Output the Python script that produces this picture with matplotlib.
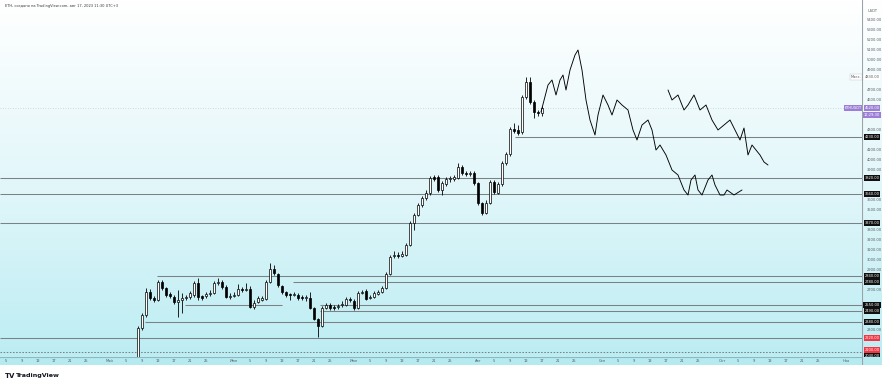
import matplotlib
matplotlib.use('Agg')
import matplotlib.pyplot as plt
import numpy as np
import pandas as pd
from matplotlib.colors import LinearSegmentedColormap
from matplotlib.transforms import blended_transform_factory

# ---------------- data ----------------
title_text = "ETH, создано на TradingView.com, авг 17, 2023 11:30 UTC+3"
base_date = pd.Timestamp("2023-05-01")
first_candle = pd.Timestamp("2023-05-08")

opens = [1980, 2320, 2450, 2680, 2620, 2600, 2780, 2720, 2660, 2630, 2580, 2600, 2620, 2630, 2650,
         2770, 2640, 2640, 2660, 2670, 2770, 2780, 2730, 2630, 2640, 2650, 2710, 2700, 2710, 2530,
         2580, 2600, 2610, 2780, 2910, 2860, 2740, 2680, 2660, 2650, 2650, 2630, 2620, 2620, 2520,
         2410, 2340, 2520, 2550, 2530, 2530, 2550, 2550, 2610, 2590, 2520, 2670, 2690, 2620, 2630,
         2660, 2680, 2720, 2860, 3040, 3050, 3040, 3050, 3150, 3370, 3450, 3550, 3620, 3670, 3830,
         3830, 3700, 3760, 3810, 3810, 3820, 3930, 3870, 3860, 3870, 3770, 3570, 3470, 3570, 3780,
         3670, 3760, 3970, 4060, 4310, 4300, 4280, 4630, 4780, 4580, 4480, 4470]
highs = [2340, 2470, 2720, 2710, 2640, 2800, 2800, 2730, 2680, 2650, 2700, 2670, 2650, 2690, 2790,
         2820, 2650, 2680, 2700, 2790, 2820, 2800, 2750, 2670, 2680, 2760, 2730, 2770, 2740, 2600,
         2640, 2640, 2800, 2970, 2950, 2870, 2750, 2690, 2670, 2680, 2670, 2650, 2650, 2680, 2530,
         2420, 2540, 2570, 2570, 2550, 2560, 2590, 2630, 2630, 2610, 2690, 2700, 2710, 2650, 2690,
         2700, 2740, 2880, 3050, 3090, 3080, 3090, 3170, 3390, 3470, 3570, 3640, 3700, 3840, 3850,
         3850, 3790, 3830, 3840, 3850, 3970, 3950, 3890, 3890, 3890, 3780, 3580, 3600, 3800, 3800,
         3780, 3990, 4080, 4330, 4370, 4350, 4650, 4830, 4830, 4600, 4500, 4540]
lows = [1960, 2300, 2430, 2600, 2580, 2590, 2700, 2630, 2620, 2560, 2430, 2470, 2600, 2610, 2630,
        2600, 2600, 2620, 2640, 2660, 2750, 2710, 2620, 2610, 2630, 2640, 2680, 2690, 2520, 2510,
        2570, 2590, 2600, 2770, 2850, 2730, 2660, 2630, 2600, 2640, 2600, 2600, 2590, 2510, 2400,
        2230, 2330, 2510, 2500, 2500, 2510, 2530, 2540, 2580, 2500, 2510, 2660, 2600, 2610, 2620,
        2650, 2670, 2710, 2850, 3020, 3020, 3030, 3040, 3140, 3300, 3440, 3530, 3600, 3650, 3790,
        3680, 3650, 3740, 3780, 3790, 3810, 3850, 3840, 3840, 3750, 3550, 3450, 3460, 3560, 3660,
        3660, 3740, 3950, 4040, 4270, 4250, 4260, 4610, 4560, 4420, 4440, 4440]
closes = [2320, 2450, 2680, 2620, 2600, 2780, 2720, 2650, 2640, 2580, 2600, 2620, 2630, 2670, 2770,
          2630, 2620, 2660, 2670, 2770, 2780, 2730, 2630, 2640, 2650, 2710, 2700, 2710, 2530, 2570,
          2620, 2620, 2780, 2910, 2870, 2750, 2680, 2650, 2650, 2660, 2620, 2620, 2630, 2520, 2410,
          2340, 2520, 2550, 2520, 2525, 2540, 2560, 2610, 2600, 2520, 2670, 2680, 2610, 2630, 2670,
          2680, 2720, 2860, 3030, 3050, 3040, 3060, 3150, 3370, 3450, 3550, 3620, 3670, 3820, 3810,
          3700, 3770, 3810, 3810, 3830, 3930, 3870, 3860, 3870, 3770, 3570, 3470, 3570, 3780, 3680,
          3760, 3970, 4060, 4310, 4290, 4270, 4630, 4780, 4580, 4480, 4470, 4520]

# hand-drawn forecast paths (days since May 1, price)
path1_days = [107.75, 109.5, 110.5, 111.5, 112.5, 113.25, 114, 115, 116.25, 117, 118, 119, 120,
              121.25, 122, 123.25, 124.5, 125.5, 126.75, 128, 129.5, 130.75, 131.75, 133, 134.5,
              135.5, 136.5, 137.5, 139, 140.5, 142, 143.5, 144.5, 145.25, 146.25, 147, 148,
              149.5, 150.5, 151.25, 152.5, 153.5, 154.25, 156, 158]
path1_price = [4480, 4750, 4800, 4650, 4800, 4850, 4700, 4900, 5050, 5100, 4900, 4600, 4400,
               4250, 4450, 4650, 4550, 4450, 4600, 4550, 4500, 4300, 4200, 4350, 4400, 4300,
               4100, 4150, 4050, 3900, 3850, 3700, 3650, 3800, 3850, 3700, 3650, 3800, 3850,
               3750, 3650, 3650, 3700, 3650, 3700]
path2_days = [139.5, 140.5, 142, 143.5, 144.5, 146, 147.5, 149, 150.5, 152, 153.5, 155, 156.25,
              157.5, 158.5, 159.5, 160.5, 161.5, 162.5, 163.5, 164.5]
path2_price = [4700, 4600, 4650, 4500, 4550, 4650, 4500, 4550, 4400, 4300, 4350, 4400, 4300,
               4200, 4320, 4050, 4150, 4100, 4050, 3980, 3950]

# horizontal levels: (price, start day or None for full width, end day or None)
levels = [(4230, 101.25, None), (3820, None, None), (3660, None, None), (3370, None, None),
          (2840, 11.75, None), (2780, 45.75, None), (2550, 18.75, 43.0), (2550, 52.5, None),
          (2490, 52.5, None), (2380, 8.75, None), (2220, None, None)]
dotted_level = 2080
black_labels = [4230, 3820, 3660, 3370, 2840, 2780, 2550, 2490, 2380, 2040]
red_labels = [2220, 2100]
last_price = 4520
high_price = 4830
tick_prices = list(range(2100, 5500, 100))
month_names = ["Апр", "Май", "Июн", "Июл", "Авг", "Сен", "Окт", "Ноя"]
day_ticks = [5, 9, 13, 17, 21, 25]

# ---------------- layout ----------------
W, H = 882, 384
fig = plt.figure(figsize=(W / 100, H / 100), dpi=100)
fig.patch.set_facecolor("white")
PL, PR, PT, PB = 0, 862, 0, 357
ax = fig.add_axes([PL / W, 1 - PB / H, (PR - PL) / W, (PB - PT) / H])

x_min = (0 - 110) / 4
x_max = (PR - 110) / 4
y_top = 5600
y_bot = 5600 - 10 * PB

grad_cmap = LinearSegmentedColormap.from_list("g", ["#ffffff", "#e3f7fa", "#bcedf3"])
grad = np.linspace(0, 1, 256).reshape(-1, 1)
ax.imshow(grad, extent=[0, 1, 0, 1], transform=ax.transAxes, cmap=grad_cmap,
          aspect="auto", origin="upper", zorder=0)

line_col = "#7a8285"
lw1 = 0.75
for price, d0, d1 in levels:
    a = x_min if d0 is None else d0
    b = x_max if d1 is None else d1
    ax.plot([a, b], [price, price], color=line_col, lw=lw1, zorder=1, solid_capstyle="butt")
ax.plot([x_min, x_max], [dotted_level, dotted_level], color=line_col, lw=lw1,
        ls=(0, (1.5, 1.5)), zorder=1)
ax.plot([x_min, x_max], [last_price, last_price], color="#c8cdd2", lw=0.6,
        ls=(0, (1, 2)), zorder=1)

offset0 = (first_candle - base_date).days
xs = np.arange(len(opens)) + offset0
o = np.array(opens, float); c = np.array(closes, float)
h = np.array(highs, float); l = np.array(lows, float)
ax.vlines(xs, l, h, color="black", lw=0.6, zorder=2)
up = c >= o
body_w = 0.72
ax.bar(xs[up], np.maximum(c[up] - o[up], 8), bottom=o[up], width=body_w,
       facecolor="white", edgecolor="black", linewidth=0.5, zorder=3)
ax.bar(xs[~up], np.minimum(c[~up] - o[~up], -8), bottom=o[~up], width=body_w,
       facecolor="black", edgecolor="black", linewidth=0.5, zorder=3)

ax.plot(path1_days, path1_price, color="black", lw=0.65, zorder=4,
        solid_joinstyle="round", solid_capstyle="round")
ax.plot(path2_days, path2_price, color="black", lw=0.65, zorder=4,
        solid_joinstyle="round", solid_capstyle="round")

ax.set_xlim(x_min, x_max)
ax.set_ylim(y_bot, y_top)
ax.set_xticks([]); ax.set_yticks([])
for s in ax.spines.values():
    s.set_visible(False)

fig.text(5 / W, 1 - 6 / H, title_text, fontsize=2.6, color="#3a3a3a", va="center", ha="left")

# ---------------- price axis ----------------
axp = fig.add_axes([PR / W, 1 - PB / H, (W - PR) / W, (PB - PT) / H])
axp.imshow(grad, extent=[0, 1, 0, 1], transform=axp.transAxes, cmap=grad_cmap,
           aspect="auto", origin="upper", zorder=0)
axp.set_xlim(0, 1); axp.set_ylim(y_bot, y_top)
axp.set_xticks([]); axp.set_yticks([])
for s in axp.spines.values():
    s.set_visible(False)
axp.axvline(0.02, color="#9aa3a6", lw=0.8)

occupied = black_labels + red_labels + [last_price, last_price - 70, high_price]
for p in tick_prices:
    if min(abs(p - q) for q in occupied) < 55:
        continue
    axp.text(0.22, p, f"{p:.2f}", fontsize=2.6, color="#555b60", va="center", ha="left")
axp.text(0.3, 5600 - 10 * 11, "USDT", fontsize=2.6, color="#555b60", va="center", ha="left")

def box_label(y, txt, bg, fg="white"):
    axp.text(0.5, y, txt, fontsize=2.6, color=fg, va="center", ha="center",
             bbox=dict(boxstyle="square,pad=0.25", fc=bg, ec=bg, lw=0))

for p in black_labels:
    box_label(p, f"{p:.2f}", "#101010")
for p in red_labels:
    box_label(p, f"{p:.2f}", "#f23645")
box_label(last_price, f"{last_price:.2f}", "#9c7ed6")
box_label(last_price - 70, "12:29:30", "#9c7ed6")
box_label(high_price, f"{high_price:.2f}", "#ffffff", fg="#555b60")

tr = blended_transform_factory(ax.transAxes, ax.transData)
ax.text(0.9995, last_price, "ETHUSDT", transform=tr, fontsize=2.6, color="white", ha="right",
        va="center", bbox=dict(boxstyle="square,pad=0.25", fc="#9c7ed6", ec="#9c7ed6", lw=0), zorder=6)
ax.text(0.9995, high_price, "Макс.", transform=tr, fontsize=2.6, color="#555b60", ha="right",
        va="center", bbox=dict(boxstyle="square,pad=0.25", fc="white", ec="#c0c4c8", lw=0.3), zorder=6)

# ---------------- time axis ----------------
axt = fig.add_axes([0, 1 - 365 / H, PR / W, 8 / H])
axt.set_facecolor("#b4eaf0")
axt.set_xlim(x_min, x_max); axt.set_ylim(0, 1)
axt.set_xticks([]); axt.set_yticks([])
for s in axt.spines.values():
    s.set_visible(False)
axt.axhline(1, color="#8fb8be", lw=0.8)
axc = fig.add_axes([PR / W, 1 - 365 / H, (W - PR) / W, 8 / H])
axc.set_facecolor("#b4eaf0"); axc.set_xticks([]); axc.set_yticks([])
for s in axc.spines.values():
    s.set_visible(False)
axc.axvline(0.02, color="#9aa3a6", lw=0.8)

months = pd.date_range("2023-04-01", "2023-11-01", freq="MS")
for mi, mstart in enumerate(months):
    for d in [1] + day_ticks:
        date = mstart + pd.Timedelta(days=d - 1)
        dx = (date - base_date).days
        if dx < x_min or dx > x_max - 1:
            continue
        txt = month_names[mi] if d == 1 else str(d)
        axt.text(dx, 0.45, txt, fontsize=2.6, color="#555b60", ha="center", va="center")

# ---------------- logo ----------------
fig.text(5 / W, 1 - 376 / H, "TV", fontsize=5, fontweight="bold", color="#131722",
         va="center", ha="left")
fig.text(16 / W, 1 - 376 / H, "TradingView", fontsize=4.6, fontweight="bold",
         color="#131722", va="center", ha="left")

fig.savefig("out.png", dpi=100, facecolor="white")
